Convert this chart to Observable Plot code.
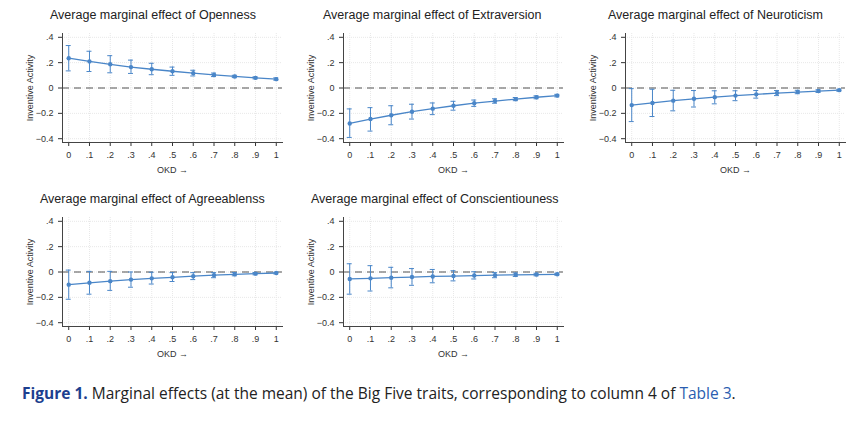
<!DOCTYPE html>
<html><head><meta charset="utf-8">
<script src="https://cdn.jsdelivr.net/npm/d3@7"></script>
<script src="https://cdn.jsdelivr.net/npm/@observablehq/plot@0.6"></script>
<style>
body{margin:0;background:#fff;width:862px;height:424px;position:relative;overflow:hidden;font-family:Arial,"Liberation Sans",sans-serif}
.panel{position:absolute;width:290px}
.title{position:absolute;top:0;font-size:12.5px;color:#222;white-space:nowrap}
.panel svg{position:absolute;top:16px;left:0}
#cap{position:absolute;left:22px;top:382px;font-family:"Open Sans",sans-serif;font-size:15.5px;color:#222}
#cap b{color:#1d3f8f}
#cap span{color:#2a5db0}
</style></head><body>
<div id="root"></div>
<div id="cap"><b>Figure 1.</b> Marginal effects (at the mean) of the Big Five traits, corresponding to column 4 of <span>Table 3</span>.</div>
<script>
const okd = [0,0.1,0.2,0.3,0.4,0.5,0.6,0.7,0.8,0.9,1];
const yTicks = [-0.4,-0.2,0,0.2,0.4];
const traits = ["Openness","Extraversion","Neuroticism","Agreeablenss","Conscientiouness"];
const openness = [.235,.21,.187,.165,.148,.132,.117,.103,.091,.08,.07];
const opennessLo = [.135,.13,.12,.115,.105,.1,.095,.09,.082,.072,.062];
const opennessHi = [.335,.29,.255,.22,.195,.165,.14,.118,.1,.088,.08];
const extraversion = [-.28,-.245,-.215,-.187,-.163,-.14,-.12,-.103,-.088,-.073,-.06];
const extraversionLo = [-.39,-.34,-.29,-.245,-.21,-.175,-.145,-.12,-.1,-.085,-.07];
const extraversionHi = [-.165,-.155,-.14,-.128,-.118,-.105,-.095,-.085,-.075,-.062,-.05];
const neuroticism = [-.135,-.118,-.1,-.085,-.072,-.06,-.05,-.04,-.032,-.024,-.017];
const neuroticismLo = [-.265,-.225,-.18,-.15,-.125,-.1,-.08,-.06,-.045,-.035,-.025];
const neuroticismHi = [-.005,-.01,-.018,-.02,-.022,-.022,-.02,-.02,-.018,-.014,-.01];
const agreeableness = [-.1,-.085,-.072,-.06,-.05,-.042,-.033,-.025,-.018,-.013,-.008];
const agreeablenessLo = [-.215,-.175,-.145,-.12,-.095,-.075,-.06,-.045,-.03,-.022,-.015];
const agreeablenessHi = [.015,.005,.005,0,-.002,-.005,-.005,-.005,-.005,-.004,-.002];
const conscientiousness = [-.055,-.05,-.045,-.04,-.035,-.032,-.028,-.025,-.022,-.02,-.018];
const conscientiousnessLo = [-.175,-.15,-.125,-.105,-.085,-.07,-.055,-.045,-.035,-.03,-.025];
const conscientiousnessHi = [.065,.05,.037,.027,.02,.01,.002,-.005,-.008,-.01,-.01];

const series = [[openness,opennessLo,opennessHi],[extraversion,extraversionLo,extraversionHi],
  [neuroticism,neuroticismLo,neuroticismHi],[agreeableness,agreeablenessLo,agreeablenessHi],
  [conscientiousness,conscientiousnessLo,conscientiousnessHi]];
const pos = [[0,8],[281,8],[563,8],[0,192],[281,192]];
const titleLeft = [50, 42, 45, 40, 30];
const blue = "#4a86c8";
const fmt = d => { const s = d3.format(".1~f")(d); return s.replace(/^(-?)0\./, "$1."); };
const root = document.getElementById("root");
traits.forEach((t,i)=>{
  const [m,lo,hi] = series[i];
  const data = okd.map((x,j)=>({x, m:m[j], lo:lo[j], hi:hi[j]}));
  const div = document.createElement("div");
  div.className="panel"; div.style.left=pos[i][0]+"px"; div.style.top=pos[i][1]+"px";
  const ti = document.createElement("div"); ti.className="title"; ti.style.left=titleLeft[i]+"px";
  ti.textContent = "Average marginal effect of " + t; div.appendChild(ti);
  const svg = Plot.plot({
    width:290, height:152, marginLeft:62, marginRight:8, marginTop:9, marginBottom:34,
    style:{fontFamily:"Arial, Liberation Sans, sans-serif", fontSize:"9px", color:"#333", background:"transparent"},
    x:{domain:[-0.03,1.03]},
    y:{domain:[-0.43,0.43]},
    marks:[
      Plot.gridX(okd,{stroke:"#e8e8e8", strokeOpacity:1, strokeDasharray:"1,1"}),
      Plot.gridY(yTicks,{stroke:"#e8e8e8", strokeOpacity:1, strokeDasharray:"1,1"}),
      Plot.ruleY([0],{stroke:"#555", strokeWidth:1.2, strokeDasharray:"7,5"}),
      Plot.ruleX(data,{x:"x", y1:"lo", y2:"hi", stroke:blue, strokeWidth:1}),
      Plot.ruleY(data,{y:"lo", x1:d=>d.x-0.012, x2:d=>d.x+0.012, stroke:blue, strokeWidth:1}),
      Plot.ruleY(data,{y:"hi", x1:d=>d.x-0.012, x2:d=>d.x+0.012, stroke:blue, strokeWidth:1}),
      Plot.line(data,{x:"x", y:"m", stroke:blue, strokeWidth:1.3}),
      Plot.dot(data,{x:"x", y:"m", fill:blue, r:2.2}),
      Plot.axisX(okd,{tickFormat:fmt, label:"OKD", labelAnchor:"center", labelOffset:30, tickSize:4, anchor:"bottom", fontSize:9}),
      Plot.axisY(yTicks,{tickFormat:fmt, label:"Inventive Activity", labelAnchor:"center", labelArrow:"none", labelOffset:36, tickSize:4, anchor:"left", fontSize:9}),
      Plot.frame({anchor:"left", stroke:"#444"}),
      Plot.frame({anchor:"bottom", stroke:"#444"})
    ]
  });
  div.appendChild(svg);
  root.appendChild(div);
});
</script>
</body></html>
